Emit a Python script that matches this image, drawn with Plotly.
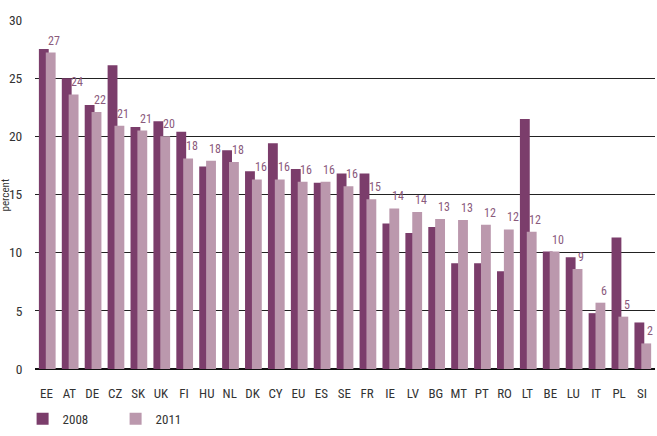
import plotly.graph_objects as go

countries = ["EE", "AT", "DE", "CZ", "SK", "UK", "FI", "HU", "NL", "DK", "CY", "EU", "ES", "SE",
             "FR", "IE", "LV", "BG", "MT", "PT", "RO", "LT", "BE", "LU", "IT", "PL", "SI"]
v2008 = [27.5, 25.0, 22.7, 26.1, 20.8, 21.3, 20.4, 17.4, 18.8, 17.0, 19.4, 17.2, 16.0, 16.8,
         16.8, 12.5, 11.7, 12.2, 9.1, 9.1, 8.4, 21.5, 10.1, 9.6, 4.8, 11.3, 4.0]
v2011 = [27.2, 23.6, 22.1, 20.9, 20.5, 20.0, 18.1, 17.9, 17.8, 16.3, 16.3, 16.1, 16.1, 15.7,
         14.6, 13.8, 13.5, 12.9, 12.8, 12.4, 12.0, 11.8, 10.1, 8.6, 5.7, 4.5, 2.2]
labels2011 = ["27", "24", "22", "21", "21", "20", "18", "18", "18", "16", "16", "16", "16", "16",
              "15", "14", "14", "13", "13", "12", "12", "12", "10", "9", "6", "5", "2"]
yticks = [0, 5, 10, 15, 20, 25, 30]

DARK = "#7b3d6b"
LIGHT = "#bb98ad"
FONT = "Liberation Sans Narrow, Roboto Condensed, DejaVu Sans Condensed, sans-serif"
CLEAR = "rgba(0,0,0,0)"

fig = go.Figure()
fig.add_trace(go.Bar(x=countries, y=v2008, name="2008", marker=dict(color=DARK, line=dict(width=0)),
                     offset=-0.33, width=0.43))
fig.add_trace(go.Bar(x=countries, y=v2011, name="2011", marker=dict(color=LIGHT, line=dict(width=0)),
                     offset=-0.03, width=0.43))

for c, v, t in zip(countries, v2011, labels2011):
    fig.add_annotation(x=c, y=v, text=t, showarrow=False, xshift=8, yshift=3,
                       yanchor="bottom", font=dict(family=FONT, size=12, color="#8a5a7c"))

fig.add_annotation(xref="paper", yref="paper", x=-0.0468, y=0.5, text="percent",
                   textangle=-90, showarrow=False, xanchor="center", yanchor="middle",
                   borderpad=0, font=dict(family=FONT, size=11, color="#333333"))

fig.update_layout(
    width=657, height=436,
    margin=dict(l=35, r=2, t=20, b=58),
    barmode="overlay",
    plot_bgcolor="white", paper_bgcolor="white",
    font=dict(family=FONT, size=12, color="#333333"),
    legend=dict(orientation="h", x=-0.02, xanchor="left", y=-0.1, yanchor="top",
                font=dict(size=13, color="#333333"), entrywidth=48, entrywidthmode="pixels"),
    xaxis=dict(showgrid=False, showline=False, ticks="outside", ticklen=12, tickcolor=CLEAR,
               automargin=False, tickfont=dict(size=13, color="#333333")),
    yaxis=dict(range=[0, 30], tickmode="array", tickvals=yticks, showgrid=True,
               gridcolor="#222222", gridwidth=1, layer="below traces",
               ticks="outside", ticklen=9, tickcolor=CLEAR, automargin=False,
               zeroline=True, zerolinecolor="#111111", zerolinewidth=2,
               tickfont=dict(size=13.5, color="#333333")),
)

fig.write_html("out.html")
